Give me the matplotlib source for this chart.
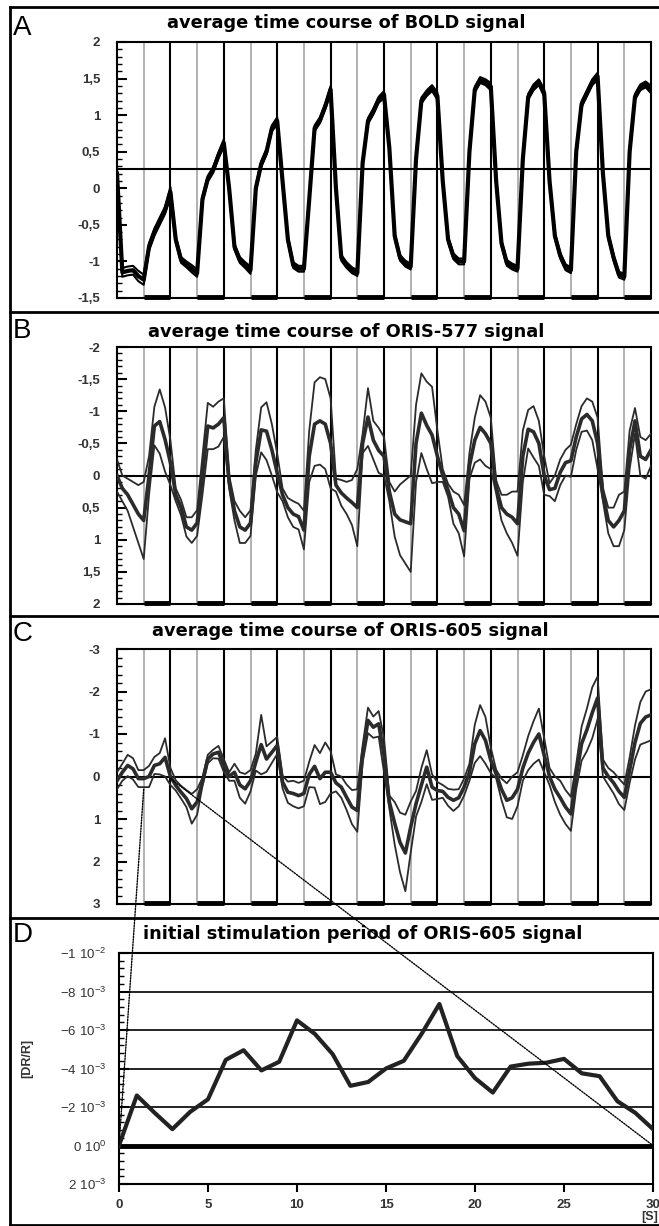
import matplotlib
matplotlib.use('Agg')
import matplotlib.pyplot as plt
import numpy as np
from matplotlib.patches import ConnectionPatch
from matplotlib.lines import Line2D
from matplotlib.ticker import MultipleLocator

plt.rcParams['font.family'] = ['Liberation Sans', 'DejaVu Sans']

# time axis: 20 blocks of 30 s, one sample every 6 s
seconds = np.arange(0, 601, 6)

bold_mean = [
    0.20, -1.15, -1.13, -1.12, -1.20,
    -1.25, -0.80, -0.60, -0.45, -0.30,
    -0.05, -0.70, -0.98, -1.04, -1.10,
    -1.16, -0.15, 0.13, 0.25, 0.45,
    0.62, 0.00, -0.80, -0.98, -1.05,
    -1.12, 0.00, 0.33, 0.50, 0.82,
    0.92, 0.10, -0.70, -1.05, -1.10,
    -1.10, -0.15, 0.82, 0.93, 1.12,
    1.35, 0.00, -0.95, -1.05, -1.12,
    -1.16, 0.35, 0.92, 1.05, 1.21,
    1.28, 0.55, -0.65, -0.95, -1.03,
    -1.07, 0.40, 1.20, 1.30, 1.37,
    1.26, 0.10, -0.70, -0.93, -1.00,
    -1.00, 0.50, 1.35, 1.48, 1.45,
    1.39, 0.10, -0.75, -1.02, -1.07,
    -1.10, 0.40, 1.25, 1.38, 1.45,
    1.30, 0.10, -0.65, -0.92, -1.08,
    -1.12, 0.50, 1.15, 1.30, 1.45,
    1.53, 0.20, -0.65, -0.95, -1.18,
    -1.21, 0.50, 1.25, 1.38, 1.42,
    1.35]
bold_sem = [
    0.06, 0.06, 0.06, 0.06, 0.07,
    0.07, 0.05, 0.05, 0.05, 0.05,
    0.07, 0.04, 0.04, 0.04, 0.05,
    0.05, 0.04, 0.04, 0.04, 0.04,
    0.05, 0.04, 0.04, 0.04, 0.04,
    0.05, 0.04, 0.04, 0.04, 0.04,
    0.05, 0.04, 0.04, 0.04, 0.04,
    0.04, 0.04, 0.04, 0.04, 0.04,
    0.05, 0.04, 0.04, 0.04, 0.04,
    0.04, 0.04, 0.04, 0.04, 0.04,
    0.05, 0.04, 0.04, 0.04, 0.04,
    0.04, 0.04, 0.04, 0.04, 0.04,
    0.05, 0.04, 0.04, 0.04, 0.04,
    0.04, 0.04, 0.04, 0.04, 0.04,
    0.05, 0.04, 0.04, 0.04, 0.04,
    0.04, 0.04, 0.04, 0.04, 0.04,
    0.05, 0.04, 0.04, 0.04, 0.04,
    0.04, 0.04, 0.04, 0.04, 0.04,
    0.05, 0.04, 0.04, 0.04, 0.04,
    0.04, 0.04, 0.04, 0.04, 0.04,
    0.05]
bold_baseline = 0.27

oris577_mean = [
    0.00, 0.20, 0.30, 0.45, 0.60,
    0.70, 0.00, -0.77, -0.84, -0.56,
    -0.20, 0.30, 0.50, 0.80, 0.85,
    0.74, 0.00, -0.77, -0.74, -0.80,
    -0.90, 0.10, 0.55, 0.80, 0.85,
    0.74, -0.20, -0.71, -0.69, -0.40,
    -0.04, 0.30, 0.50, 0.60, 0.64,
    0.85, -0.30, -0.80, -0.85, -0.80,
    -0.50, 0.15, 0.27, 0.35, 0.42,
    0.50, -0.50, -0.91, -0.55, -0.39,
    -0.30, 0.25, 0.60, 0.69, 0.72,
    0.75, -0.50, -0.97, -0.78, -0.63,
    -0.30, 0.00, 0.23, 0.50, 0.60,
    0.86, -0.15, -0.55, -0.75, -0.65,
    -0.50, 0.18, 0.50, 0.60, 0.65,
    0.75, -0.30, -0.72, -0.68, -0.50,
    0.00, 0.22, 0.20, -0.05, -0.20,
    -0.23, -0.60, -0.88, -0.95, -0.85,
    -0.50, 0.30, 0.70, 0.80, 0.70,
    0.55, -0.40, -0.85, -0.30, -0.25,
    -0.40]
oris577_sem = [
    0.25, 0.20, 0.25, 0.35, 0.45,
    0.60, 0.30, 0.30, 0.50, 0.50,
    0.35, 0.10, 0.12, 0.15, 0.20,
    0.20, 0.30, 0.36, 0.33, 0.35,
    0.30, 0.10, 0.15, 0.25, 0.20,
    0.20, 0.20, 0.35, 0.45, 0.40,
    0.30, 0.10, 0.15, 0.20, 0.20,
    0.30, 0.40, 0.65, 0.68, 0.70,
    0.70, 0.10, 0.20, 0.25, 0.35,
    0.60, 0.15, 0.45, 0.30, 0.35,
    0.30, 0.15, 0.35, 0.55, 0.65,
    0.75, 0.60, 0.62, 0.68, 0.75,
    0.40, 0.10, 0.10, 0.25, 0.30,
    0.40, 0.20, 0.35, 0.50, 0.50,
    0.40, 0.10, 0.20, 0.30, 0.40,
    0.50, 0.40, 0.30, 0.40, 0.35,
    0.30, 0.10, 0.20, 0.20, 0.20,
    0.25, 0.20, 0.20, 0.25, 0.30,
    0.40, 0.10, 0.20, 0.30, 0.40,
    0.30, 0.30, 0.20, 0.30, 0.30,
    0.25]

oris605_mean = [
    0.10, -0.10, -0.26, -0.18, 0.05,
    0.05, 0.00, -0.26, -0.30, -0.45,
    0.00, 0.21, 0.37, 0.52, 0.76,
    0.60, 0.13, -0.41, -0.53, -0.57,
    -0.26, 0.00, -0.10, 0.20, 0.29,
    0.10, -0.34, -0.75, -0.41, -0.57,
    -0.73, 0.13, 0.37, 0.40, 0.45,
    0.40, -0.05, -0.24, 0.05, -0.10,
    -0.10, 0.15, 0.25, 0.49, 0.72,
    0.80, -0.53, -1.32, -1.16, -1.24,
    -0.50, 0.60, 1.10, 1.55, 1.80,
    1.19, 0.64, 0.20, -0.22, 0.25,
    0.33, 0.35, 0.49, 0.56, 0.50,
    0.25, -0.10, -0.77, -1.08, -0.85,
    -0.38, -0.06, 0.30, 0.56, 0.50,
    0.30, -0.20, -0.55, -0.80, -1.00,
    -0.50, 0.00, 0.30, 0.50, 0.72,
    0.88, 0.00, -0.77, -1.10, -1.50,
    -1.85, -0.20, 0.00, 0.15, 0.35,
    0.49, -0.15, -0.80, -1.25, -1.40,
    -1.45]
oris605_sem = [
    0.20, 0.20, 0.25, 0.25, 0.20,
    0.20, 0.25, 0.20, 0.25, 0.45,
    0.20, 0.12, 0.15, 0.20, 0.35,
    0.30, 0.10, 0.10, 0.10, 0.15,
    0.15, 0.10, 0.20, 0.30, 0.35,
    0.25, 0.20, 0.70, 0.30, 0.25,
    0.20, 0.15, 0.25, 0.30, 0.30,
    0.30, 0.30, 0.50, 0.60, 0.70,
    0.50, 0.20, 0.25, 0.30, 0.40,
    0.50, 0.20, 0.30, 0.25, 0.30,
    0.40, 0.15, 0.50, 0.70, 0.90,
    0.60, 0.30, 0.40, 0.40, 0.30,
    0.20, 0.15, 0.20, 0.25, 0.20,
    0.20, 0.20, 0.45, 0.60, 0.55,
    0.30, 0.10, 0.25, 0.40, 0.50,
    0.40, 0.30, 0.40, 0.50, 0.60,
    0.40, 0.20, 0.30, 0.40, 0.40,
    0.40, 0.30, 0.40, 0.50, 0.60,
    0.50, 0.20, 0.20, 0.25, 0.30,
    0.30, 0.30, 0.40, 0.50, 0.60,
    0.60]

# panel D: first stimulation block, 1 s sampling
initial_seconds = list(range(0, 31))
initial_dr = [0, -2.6, -1.7, -0.85, -1.75, -2.4, -4.45, -4.95, -3.9, -4.35,
              -6.5, -5.8, -4.75, -3.1, -3.3, -4.0, -4.4, -5.8, -7.35, -4.65,
              -3.5, -2.75, -4.1, -4.25, -4.3, -4.5, -3.75, -3.6, -2.3, -1.7,
              -0.85]
initial_dr = [v * 1e-3 for v in initial_dr]

bold_ticks = [-1.5, -1, -0.5, 0, 0.5, 1, 1.5, 2]
bold_labels = ['-1,5', '-1', '-0,5', '0', '0,5', '1', '1,5', '2']
oris577_ticks = [-2, -1.5, -1, -0.5, 0, 0.5, 1, 1.5, 2]
oris577_labels = ['-2', '-1,5', '-1', '-0,5', '0', '0,5', '1', '1,5', '2']
oris605_ticks = [-3, -2, -1, 0, 1, 2, 3]
oris605_labels = ['-3', '-2', '-1', '0', '1', '2', '3']
dr_ticks = [-0.01, -0.008, -0.006, -0.004, -0.002, 0, 0.002]
dr_labels = [r'$\mathregular{-1\ 10^{-2}}$', r'$\mathregular{-8\ 10^{-3}}$',
             r'$\mathregular{-6\ 10^{-3}}$', r'$\mathregular{-4\ 10^{-3}}$',
             r'$\mathregular{-2\ 10^{-3}}$', r'$\mathregular{0\ 10^{0}}$',
             r'$\mathregular{2\ 10^{-3}}$']
sec_ticks = [0, 5, 10, 15, 20, 25, 30]

W, H = 659, 1226


def px_box(x0, y0, x1, y1):
    return [x0 / W, 1 - y1 / H, (x1 - x0) / W, (y1 - y0) / H]


fig = plt.figure(figsize=(W / 100, H / 100), dpi=100)

ax_a = fig.add_axes(px_box(117, 42, 651, 298))
ax_b = fig.add_axes(px_box(117, 347, 651, 604))
ax_c = fig.add_axes(px_box(117, 649, 651, 904))
ax_d = fig.add_axes(px_box(119, 953, 653, 1184))

tick_color = '#333333'
tick_size = 9.5


def style_course(ax, ylim, ticks, labels, minor):
    ax.set_xlim(0, 600)
    ax.set_ylim(*ylim)
    ax.set_xticks([])
    ax.set_yticks(ticks)
    ax.set_yticklabels(labels, fontweight='bold')
    ax.yaxis.set_minor_locator(MultipleLocator(minor))
    ax.tick_params(axis='y', which='major', direction='in', length=7, width=1.5,
                   labelsize=tick_size, labelcolor=tick_color, pad=12)
    ax.tick_params(axis='y', which='minor', direction='in', length=3.5, width=1)
    for s in ax.spines.values():
        s.set_linewidth(1.5)
    # block boundaries: gray = stimulus on, black = stimulus off
    for k in range(1, 20):
        if k % 2:
            ax.axvline(k * 30, color='#9c9c9c', lw=1.1, zorder=1)
        else:
            ax.axvline(k * 30, color='black', lw=1.5, zorder=1)
    for k in range(1, 20, 2):
        ax.plot([k * 30, (k + 1) * 30], [0.004, 0.004], transform=ax.get_xaxis_transform(),
                color='black', lw=3.5, solid_capstyle='butt', clip_on=False, zorder=5)


def plot_course(ax, mean, sem, color, lw_mean, lw_sem):
    m = np.array(mean)
    e = np.array(sem)
    ax.plot(seconds, m + e, color=color, lw=lw_sem, zorder=3)
    ax.plot(seconds, m - e, color=color, lw=lw_sem, zorder=3)
    ax.plot(seconds, m, color=color, lw=lw_mean, zorder=4)


# A: BOLD
style_course(ax_a, (-1.5, 2), bold_ticks, bold_labels, 0.1)
ax_a.axhline(bold_baseline, color='black', lw=1.5, zorder=2)
plot_course(ax_a, bold_mean, bold_sem, 'black', 3.0, 1.5)

# B: ORIS-577 (inverted)
style_course(ax_b, (2, -2), oris577_ticks, oris577_labels, 0.1)
ax_b.axhline(0, color='black', lw=1.5, zorder=2)
plot_course(ax_b, oris577_mean, oris577_sem, '#2b2b2b', 2.6, 1.3)

# C: ORIS-605 (inverted)
style_course(ax_c, (3, -3), oris605_ticks, oris605_labels, 0.2)
ax_c.axhline(0, color='black', lw=1.5, zorder=2)
plot_course(ax_c, oris605_mean, oris605_sem, '#2b2b2b', 2.6, 1.3)

# D: initial stimulation period
ax_d.set_xlim(0, 30)
ax_d.set_ylim(0.002, -0.01)
ax_d.set_xticks(sec_ticks)
ax_d.set_xticklabels([str(t) for t in sec_ticks], fontweight='bold')
ax_d.set_yticks(dr_ticks)
ax_d.set_yticklabels(dr_labels)
ax_d.yaxis.set_minor_locator(MultipleLocator(0.0004))
ax_d.tick_params(axis='x', direction='out', length=6, width=1.5, labelsize=tick_size,
                 labelcolor=tick_color, pad=5)
ax_d.tick_params(axis='y', which='major', direction='in', length=7, width=1.5,
                 labelsize=tick_size, labelcolor=tick_color, pad=9)
ax_d.tick_params(axis='y', which='minor', direction='in', length=3.5, width=1)
for s in ax_d.spines.values():
    s.set_linewidth(1.5)
for v in dr_ticks[1:5]:
    ax_d.axhline(v, color='black', lw=1.2, zorder=1)
ax_d.axhline(0, color='black', lw=3.5, zorder=2)
ax_d.plot(initial_seconds, initial_dr, color='#222222', lw=3, zorder=4)
ax_d.set_ylabel('[DR/R]', fontsize=9, fontweight='bold', color=tick_color)
ax_d.yaxis.set_label_coords(-0.16, 0.545)
fig.text(658 / W, 1 - 1217 / H, '[S]', ha='right', va='center',
         fontsize=9, fontweight='bold', color=tick_color)

# titles and panel letters
titles = ['average time course of BOLD signal',
          'average time course of ORIS-577 signal',
          'average time course of ORIS-605 signal',
          'initial stimulation period of ORIS-605 signal']
title_pos = [(167, 23), (148, 332), (152, 631), (143, 934)]
letters = ['A', 'B', 'C', 'D']
letter_pos = [(13, 28), (13, 331), (13, 634), (13, 935)]
for t, (x, y) in zip(titles, title_pos):
    fig.text(x / W, 1 - y / H, t, ha='left', va='center', fontsize=12.8,
             fontweight='bold', family='DejaVu Sans')
for l, (x, y) in zip(letters, letter_pos):
    fig.text(x / W, 1 - y / H, l, ha='left', va='center', fontsize=20)

# frame and panel separators
def frame_line(x0, y0, x1, y1):
    fig.add_artist(Line2D([x0 / W, x1 / W], [1 - y0 / H, 1 - y1 / H],
                          transform=fig.transFigure, color='black', lw=2))


frame_line(10, 7, 10, 1225)
frame_line(10, 7, 659, 7)
frame_line(10, 1225, 659, 1225)
for y in [312, 616, 918]:
    frame_line(10, y, 659, y)

# dotted zoom lines from the first block of C to D
for xa, ya, xb in [(30, 0.3, 0), (60, 0.05, 30)]:
    con = ConnectionPatch(xyA=(xa, ya), coordsA=ax_c.transData,
                          xyB=(xb, 0), coordsB=ax_d.transData,
                          linestyle=(0, (1, 1)), lw=1, color='black', zorder=10)
    fig.add_artist(con)

fig.savefig('out.png', dpi=100)
